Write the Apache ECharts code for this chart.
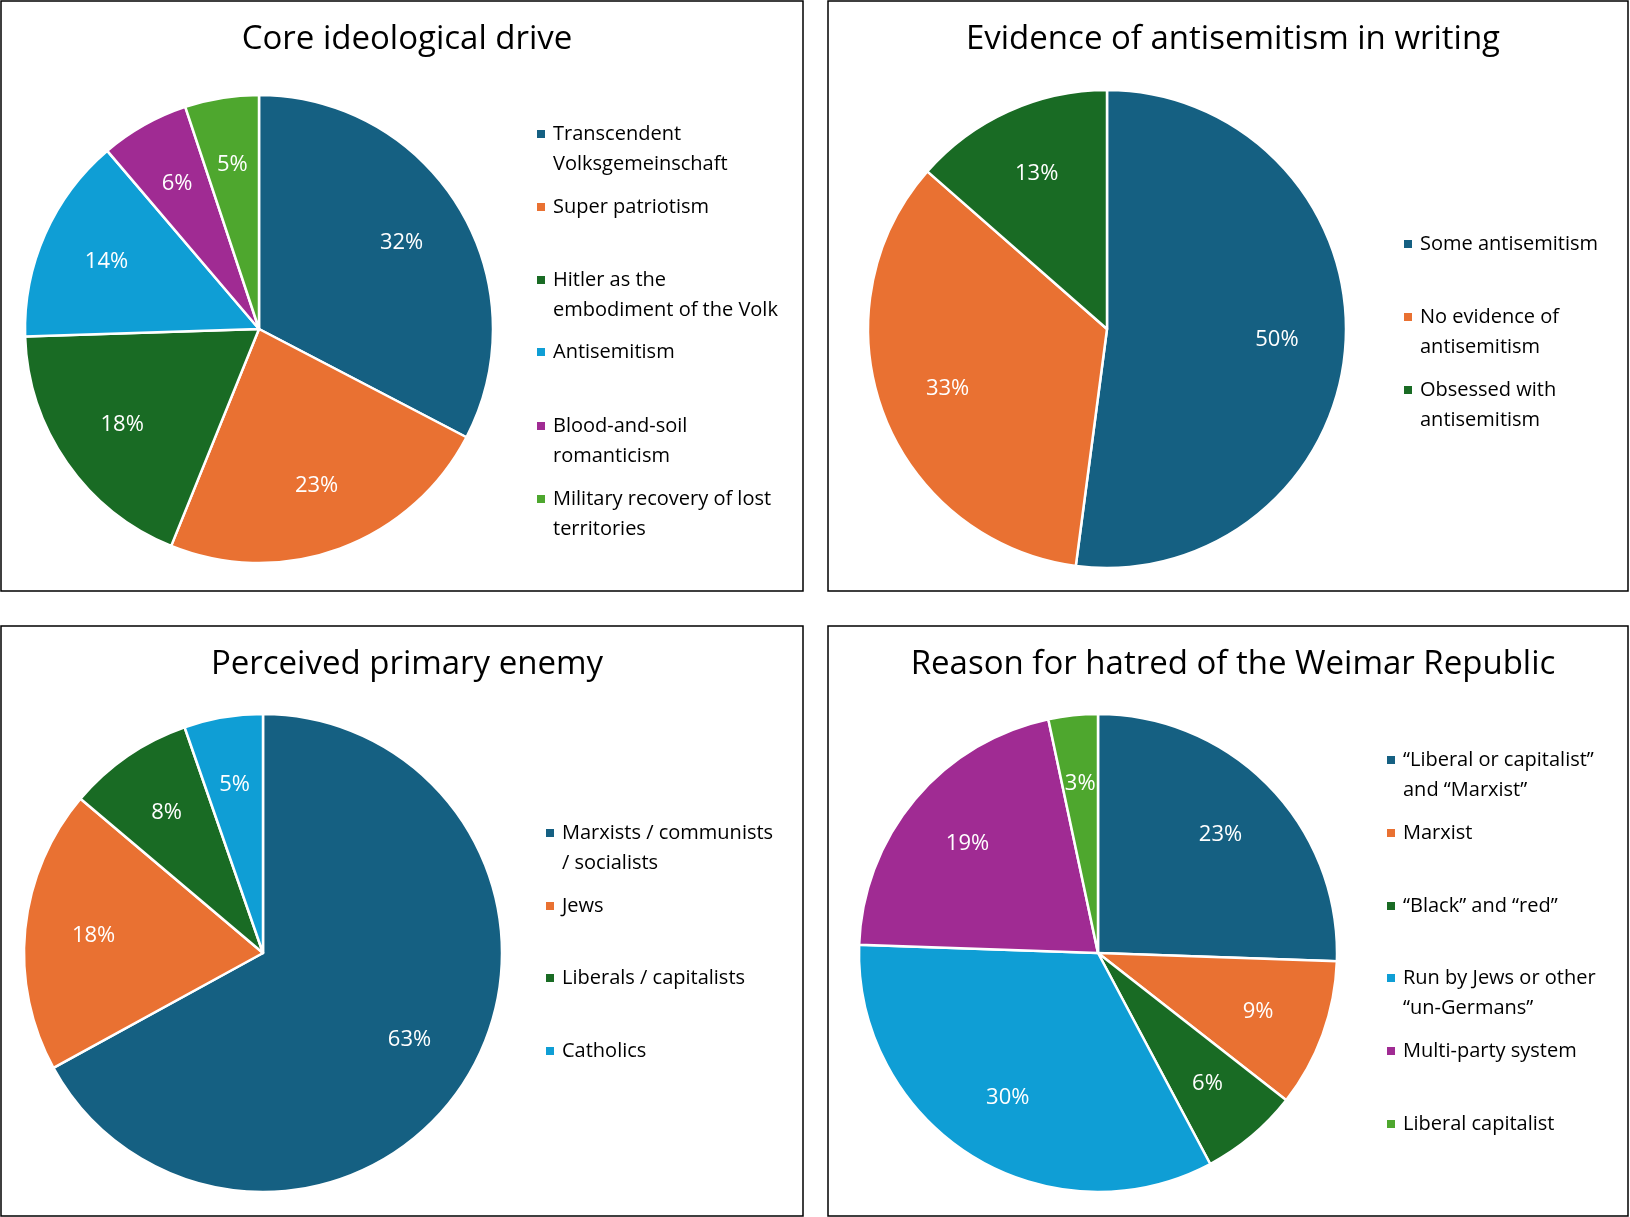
<!DOCTYPE html>
<html><head><meta charset="utf-8">
<script src="https://cdn.jsdelivr.net/npm/echarts@6/dist/echarts.min.js"></script>
<style>html,body{margin:0;padding:0;background:#fff}#c{width:1630px;height:1217px}</style>
</head><body><div id="c"></div>
<script>
const colors=['#156082','#e97132','#196b24','#0f9ed5','#a02b93','#4ea72e'];
const titles=['Core ideological drive','Evidence of antisemitism in writing','Perceived primary enemy','Reason for hatred of the Weimar Republic'];
const cats1=['Transcendent\nVolksgemeinschaft','Super patriotism','Hitler as the\nembodiment of the Volk','Antisemitism','Blood-and-soil\nromanticism','Military recovery of lost\nterritories'];
const vals1=[32,23,18,14,6,5];
const cats2=['Some antisemitism','No evidence of\nantisemitism','Obsessed with\nantisemitism'];
const vals2=[50,33,13];
const cats3=['Marxists / communists\n/ socialists','Jews','Liberals / capitalists','Catholics'];
const vals3=[63,18,8,5];
const cats4=['“Liberal or capitalist”\nand “Marxist”','Marxist','“Black” and “red”','Run by Jews or other\n“un-Germans”','Multi-party system','Liberal capitalist'];
const vals4=[23,9,6,30,19,3];

const panels=[
 {cats:cats1,vals:vals1,box:[1,1,803,591],c:[259,329],r:234,tx:402,ty:40,lx:530,ly:[129,202,275,347,421,494]},
 {cats:cats2,vals:vals2,box:[828,1,1628,591],c:[1107,329],r:239,tx:1228,ty:40,lx:1397,ly:[239,312,385]},
 {cats:cats3,vals:vals3,box:[1,626,803,1216],c:[263,953],r:239,tx:402,ty:665,lx:539,ly:[828,901,973,1046]},
 {cats:cats4,vals:vals4,box:[828,626,1628,1216],c:[1098,953],r:239,tx:1228,ty:665,lx:1380,ly:[755,828,901,973,1046,1119]}
];
const font='"Open Sans", Lato, sans-serif';
const series=[],legend=[],title=[],graphic=[];
panels.forEach((p,pi)=>{
  const data=p.cats.map((n,i)=>({name:n,value:p.vals[i],itemStyle:{color:colors[i]}}));
  series.push({type:'pie',center:p.c,radius:[0,p.r],startAngle:90,clockwise:true,silent:true,
    data:data,label:{show:false},labelLine:{show:false},itemStyle:{borderColor:'#fff',borderWidth:2.5}});
  series.push({type:'pie',center:p.c,radius:[0,p.r*1.4],startAngle:90,clockwise:true,silent:true,
    data:p.cats.map((n,i)=>({name:n+'__lbl',value:p.vals[i]})),
    itemStyle:{color:'rgba(0,0,0,0)'},labelLine:{show:false},
    label:{show:true,position:'inside',formatter:'{c}%',color:'#fff',fontSize:22,fontFamily:font}});
  title.push({text:titles[pi],left:p.tx,top:p.ty-22,textAlign:'center',textStyle:{fontSize:33,fontWeight:'normal',color:'#000',fontFamily:font}});
  graphic.push({type:'rect',shape:{x:p.box[0],y:p.box[1],width:p.box[2]-p.box[0],height:p.box[3]-p.box[1]},style:{fill:'none',stroke:'#000',lineWidth:1.5}});
  p.cats.forEach((n,i)=>{
    const two=n.includes('\n');
    legend.push({data:[n],left:p.lx,top:two?p.ly[i]-45:p.ly[i]-15,itemWidth:10,itemHeight:10,icon:'rect',itemGap:0,
      formatter:two?'\n'+n:n,selectedMode:false,
      textStyle:{fontSize:20,lineHeight:30,color:'#000',fontFamily:font,padding:[0,0,0,2]}});
  });
});
const chart=echarts.init(document.getElementById('c'));
chart.setOption({animation:false,color:colors,title,legend,series,graphic});
</script></body></html>
